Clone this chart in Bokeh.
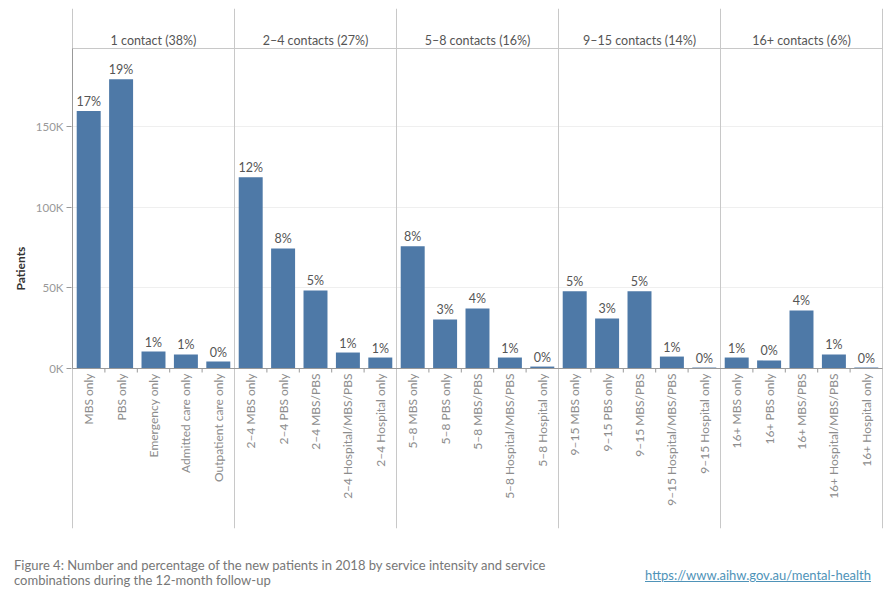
import math
from bokeh.plotting import figure
from bokeh.layouts import column
from bokeh.models import Range1d, FixedTicker, ColumnDataSource, CustomJSTickFormatter, Div
from bokeh.core.properties import value
from bokeh.embed import file_html
from bokeh.resources import INLINE

# ---------------- data ----------------
groups = ["1 contact (38%)", "2–4 contacts (27%)", "5–8 contacts (16%)",
          "9–15 contacts (14%)", "16+ contacts (6%)"]
group_sizes = [5, 5, 5, 5, 5]

categories = [
    "MBS only", "PBS only", "Emergency only", "Admitted care only", "Outpatient care only",
    "2–4 MBS only", "2–4 PBS only", "2–4 MBS/PBS", "2–4 Hospital/MBS/PBS", "2–4 Hospital only",
    "5–8 MBS only", "5–8 PBS only", "5–8 MBS/PBS", "5–8 Hospital/MBS/PBS", "5–8 Hospital only",
    "9–15 MBS only", "9–15 PBS only", "9–15 MBS/PBS", "9–15 Hospital/MBS/PBS", "9–15 Hospital only",
    "16+ MBS only", "16+ PBS only", "16+ MBS/PBS", "16+ Hospital/MBS/PBS", "16+ Hospital only",
]
patients = [
    159500, 179300, 10500, 8700, 4300,
    118500, 74400, 48400, 9900, 6800,
    75700, 30400, 37200, 6800, 1200,
    47800, 31000, 47800, 7400, 600,
    6800, 5000, 36000, 8700, 600,
]
pct_labels = [
    "17%", "19%", "1%", "1%", "0%",
    "12%", "8%", "5%", "1%", "1%",
    "8%", "3%", "4%", "1%", "0%",
    "5%", "3%", "5%", "1%", "0%",
    "1%", "0%", "4%", "1%", "0%",
]
y_ticks = [0, 50000, 100000, 150000]

caption_lines = ["Figure 4: Number and percentage of the new patients in 2018 by service intensity and service",
                 "combinations during the 12-month follow-up"]
link_text = "https://www.aihw.gov.au/mental-health"

# ---------------- layout constants ----------------
FONT = "Lato"
BAR_COLOR = "#4e79a7"
Y_MAX = 198300            # top of the bar area
HEADER_PX, PLOT_PX, LABEL_PX = 40, 320, 160
UPP = Y_MAX / PLOT_PX     # data units per pixel (vertical)
N = len(categories)
FRAME_W = 810
XU = N / FRAME_W          # data units per pixel (horizontal)

centers = [i + 0.5 for i in range(N)]
bounds = []
acc = 0
for s in group_sizes:
    bounds.append(acc)
    acc += s
bounds.append(acc)
group_centers = [(bounds[i] + bounds[i + 1]) / 2 for i in range(len(groups))]
tick_pos = [float(i) for i in range(1, N) if i not in bounds]

p = figure(width=890, height=540, output_backend="svg", toolbar_location=None,
           x_range=Range1d(-XU, N + XU),
           y_range=Range1d(-LABEL_PX * UPP, Y_MAX + HEADER_PX * UPP),
           min_border_left=71, min_border_right=7, min_border_top=8, min_border_bottom=12,
           x_axis_type=None)
p.outline_line_color = None
p.background_fill_color = "white"
p.border_fill_color = "white"
p.xgrid.visible = False

# y axis
yax = p.yaxis[0]
yax.ticker = FixedTicker(ticks=y_ticks)
yax.formatter = CustomJSTickFormatter(code="return (tick/1000).toFixed(0) + 'K';")
yax.axis_line_color = None
yax.major_tick_in = 0
yax.major_tick_out = 5
yax.major_tick_line_color = "#999999"
yax.minor_tick_line_color = None
yax.major_label_text_color = "#999999"
yax.major_label_text_font = FONT
yax.major_label_text_font_size = "11.5px"
yax.major_label_standoff = 3
yax.axis_label = "Patients"
yax.axis_label_text_font = FONT
yax.axis_label_text_font_style = "bold"
yax.axis_label_text_font_size = "12px"
yax.axis_label_text_color = "#333333"
yax.axis_label_standoff = 5
p.ygrid.ticker = FixedTicker(ticks=y_ticks[1:])
p.ygrid.grid_line_color = "#efefef"

# dividers / header / axes lines
p.segment(x0=bounds, y0=[-LABEL_PX * UPP] * len(bounds), x1=bounds,
          y1=[Y_MAX + HEADER_PX * UPP] * len(bounds), line_color="#c8c8c8", line_width=1)
p.segment(x0=[0], y0=[Y_MAX], x1=[N], y1=[Y_MAX], line_color="#c8c8c8", line_width=1)

# bars
src = ColumnDataSource(dict(x=centers, top=patients, lab=pct_labels, cat=categories))
p.vbar(x="x", top="top", width=0.74, bottom=0, source=src, fill_color=BAR_COLOR,
       line_color=None)

p.segment(x0=[0], y0=[0], x1=[N], y1=[0], line_color="#999999", line_width=1)
p.segment(x0=[0], y0=[0], x1=[0], y1=[Y_MAX], line_color="#999999", line_width=1)
p.segment(x0=tick_pos, y0=[0] * len(tick_pos), x1=tick_pos, y1=[-4 * UPP] * len(tick_pos),
          line_color="#999999", line_width=1)

p.text(x="x", y="top", text="lab", source=src, text_align="center", text_baseline="bottom",
       y_offset=-2, text_font=value(FONT), text_font_size="12.5px", text_color="#555555")

p.text(x="x", y=0, text="cat", source=src, angle=math.pi / 2, text_align="right",
       text_baseline="middle", y_offset=5, text_font=value(FONT), text_font_size="12px",
       text_color="#8c8c8c")

p.text(x=group_centers, y=[Y_MAX + 8 * UPP] * len(groups), text=groups,
       text_align="center", text_baseline="middle", text_font=value(FONT),
       text_font_size="12.5px", text_color="#555555")

# ---------------- footer ----------------
footer_html = (
    '<div style="position:relative;width:890px;height:60px;font-family:Lato;'
    'font-size:13px;color:#777777;">'
    '<div style="position:absolute;left:14px;top:18px;line-height:15px;white-space:nowrap;">'
    + caption_lines[0] + '<br>' + caption_lines[1] + '</div>'
    '<a href="' + link_text + '" style="position:absolute;right:19px;top:26px;'
    'color:#4f93b8;text-decoration:underline;white-space:nowrap;">' + link_text + '</a>'
    '</div>'
)
footer = Div(text=footer_html, width=890, height=60, margin=0)

layout = column(p, footer, spacing=0)
open("out.html", "w").write(file_html(layout, INLINE))
